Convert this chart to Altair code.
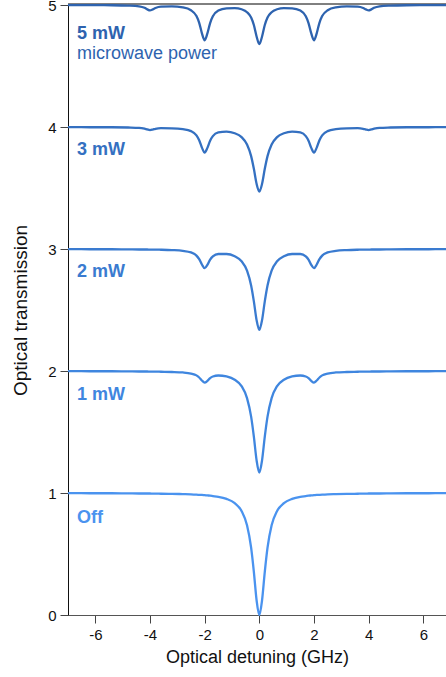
import altair as alt
import pandas as pd

# Optical detuning grid (GHz)
x_ghz = [-7.0, -6.2, -5.4, -4.8, -4.4, -4.2, -4.1, -4.0, -3.9, -3.8, -3.6, -3.2, -2.8, -2.5, -2.3,
         -2.2, -2.1, -2.0, -1.9, -1.8, -1.7, -1.5, -1.2, -0.9, -0.65, -0.45, -0.3, -0.2, -0.1,
         0.0,
         0.1, 0.2, 0.3, 0.45, 0.65, 0.9, 1.2, 1.5, 1.7, 1.8, 1.9, 2.0, 2.1, 2.2, 2.3,
         2.5, 2.8, 3.2, 3.6, 3.8, 3.9, 4.0, 4.1, 4.2, 4.4, 4.8, 5.4, 6.2, 6.83]

# Optical transmission (curves offset by 1 per microwave power)
t_off = [0.999, 0.998, 0.998, 0.997, 0.996, 0.996, 0.996, 0.996, 0.995, 0.995, 0.994, 0.993, 0.991, 0.989, 0.986,
         0.985, 0.984, 0.982, 0.980, 0.978, 0.975, 0.969, 0.952, 0.917, 0.853, 0.735, 0.552, 0.354, 0.121,
         0.000,
         0.121, 0.354, 0.552, 0.735, 0.853, 0.917, 0.952, 0.969, 0.975, 0.978, 0.980, 0.982, 0.984, 0.985, 0.986,
         0.989, 0.991, 0.993, 0.994, 0.995, 0.995, 0.996, 0.996, 0.996, 0.996, 0.997, 0.998, 0.998, 0.999]

t_1mw = [1.999, 1.998, 1.998, 1.997, 1.996, 1.996, 1.996, 1.995, 1.995, 1.995, 1.994, 1.992, 1.988, 1.979, 1.964,
         1.947, 1.922, 1.905, 1.919, 1.942, 1.955, 1.963, 1.955, 1.928, 1.876, 1.778, 1.626, 1.462, 1.268,
         1.168,
         1.268, 1.462, 1.626, 1.778, 1.876, 1.928, 1.955, 1.963, 1.955, 1.942, 1.919, 1.905, 1.922, 1.947, 1.964,
         1.979, 1.988, 1.992, 1.994, 1.995, 1.995, 1.995, 1.996, 1.996, 1.996, 1.997, 1.998, 1.998, 1.999]

t_2mw = [2.999, 2.998, 2.998, 2.997, 2.996, 2.996, 2.996, 2.995, 2.995, 2.995, 2.994, 2.991, 2.985, 2.972, 2.946,
         2.917, 2.873, 2.843, 2.870, 2.913, 2.939, 2.959, 2.959, 2.940, 2.899, 2.822, 2.701, 2.571, 2.417,
         2.337,
         2.417, 2.571, 2.701, 2.822, 2.899, 2.940, 2.959, 2.959, 2.939, 2.913, 2.870, 2.843, 2.873, 2.917, 2.946,
         2.972, 2.985, 2.991, 2.994, 2.995, 2.995, 2.995, 2.996, 2.996, 2.996, 2.997, 2.998, 2.998, 2.999]

t_3mw = [3.999, 3.998, 3.998, 3.996, 3.993, 3.986, 3.980, 3.975, 3.979, 3.985, 3.990, 3.989, 3.982, 3.966, 3.931,
         3.891, 3.831, 3.790, 3.829, 3.888, 3.925, 3.955, 3.962, 3.949, 3.917, 3.856, 3.761, 3.657, 3.534,
         3.471,
         3.534, 3.657, 3.761, 3.856, 3.917, 3.949, 3.962, 3.955, 3.925, 3.888, 3.829, 3.790, 3.831, 3.891, 3.931,
         3.966, 3.982, 3.989, 3.990, 3.985, 3.979, 3.975, 3.980, 3.986, 3.993, 3.996, 3.998, 3.998, 3.999]

t_5mw = [4.999, 4.999, 4.998, 4.995, 4.989, 4.977, 4.964, 4.956, 4.964, 4.975, 4.986, 4.988, 4.980, 4.957, 4.909,
         4.854, 4.768, 4.711, 4.767, 4.852, 4.907, 4.954, 4.973, 4.975, 4.965, 4.941, 4.897, 4.836, 4.742,
         4.679,
         4.742, 4.836, 4.897, 4.941, 4.965, 4.975, 4.973, 4.954, 4.907, 4.852, 4.767, 4.711, 4.768, 4.854, 4.909,
         4.957, 4.980, 4.988, 4.986, 4.975, 4.964, 4.956, 4.964, 4.977, 4.989, 4.995, 4.998, 4.999, 4.999]

series_names = ["Off", "1 mW", "2 mW", "3 mW", "5 mW"]
series_values = [t_off, t_1mw, t_2mw, t_3mw, t_5mw]
series_colors = ["#4a93ef", "#3f86df", "#3a7bd0", "#3470c1", "#2e63af"]

label_text = ["5 mW", "microwave power", "3 mW", "2 mW", "1 mW", "Off"]
label_series = ["5 mW", "5 mW", "3 mW", "2 mW", "1 mW", "Off"]
label_y = [4.765, 4.60, 3.81, 2.81, 1.80, 0.795]
label_bold = [True, False, True, True, True, True]

x_ticks = [-6, -4, -2, 0, 2, 4, 6]
y_ticks = [0, 1, 2, 3, 4, 5]

rows = []
for name, vals in zip(series_names, series_values):
    for xv, yv in zip(x_ghz, vals):
        rows.append({"x": xv, "y": yv, "series": name})
df = pd.DataFrame(rows)

labels = pd.DataFrame({"text": label_text, "series": label_series, "y": label_y,
                       "bold": label_bold, "x": [-6.67] * len(label_text)})

W, H = 378, 610
x_scale = alt.Scale(domain=[-7, 6.83], nice=False, zero=False)
y_scale = alt.Scale(domain=[0, 5], nice=False)
color_scale = alt.Scale(domain=series_names, range=series_colors)

border = alt.Chart(pd.DataFrame({"a": [0]})).mark_rule(color="black", strokeWidth=1).encode(
    x=alt.value(0), x2=alt.value(W), y=alt.value(-1)
)

plain_label = "datum.value < 0 ? '-' + abs(datum.value) : '' + datum.value"

lines = alt.Chart(df).mark_line(strokeWidth=2.3, interpolate="monotone").encode(
    x=alt.X("x:Q", scale=x_scale,
            axis=alt.Axis(title="Optical detuning (GHz)", values=x_ticks, labelExpr=plain_label,
                          domainColor="#555555")),
    y=alt.Y("y:Q", scale=y_scale,
            axis=alt.Axis(title="Optical transmission", values=y_ticks, labelExpr=plain_label,
                          domainColor="#111111", titleFontSize=19, titlePadding=17)),
    color=alt.Color("series:N", scale=color_scale, legend=None),
    detail="series:N",
)

text_bold = alt.Chart(labels).transform_filter("datum.bold").mark_text(
    align="left", baseline="middle", fontSize=18, fontWeight="bold"
).encode(
    x=alt.X("x:Q", scale=x_scale), y=alt.Y("y:Q", scale=y_scale), text="text:N",
    color=alt.Color("series:N", scale=color_scale, legend=None),
)

text_norm = alt.Chart(labels).transform_filter("!datum.bold").mark_text(
    align="left", baseline="middle", fontSize=18
).encode(
    x=alt.X("x:Q", scale=x_scale), y=alt.Y("y:Q", scale=y_scale), text="text:N",
    color=alt.Color("series:N", scale=color_scale, legend=None),
)

chart = alt.layer(border, lines, text_bold, text_norm).properties(
    width=W, height=H,
    padding={"left": 68, "top": 5, "right": 0, "bottom": 62},
    autosize=alt.AutoSizeParams(type="none"),
).configure(
    font="Liberation Sans",
).configure_view(
    strokeWidth=0,
).configure_axis(
    grid=False,
    tickColor="#444444",
    tickSize=8,
    labelFontSize=15,
    labelColor="#111111",
    titleFontSize=18,
    titleFontWeight="normal",
    titleColor="#111111",
    labelPadding=4,
).configure_axisX(
    titlePadding=6,
)

chart.save("out.html", embed_options={"renderer": "svg", "actions": False})
